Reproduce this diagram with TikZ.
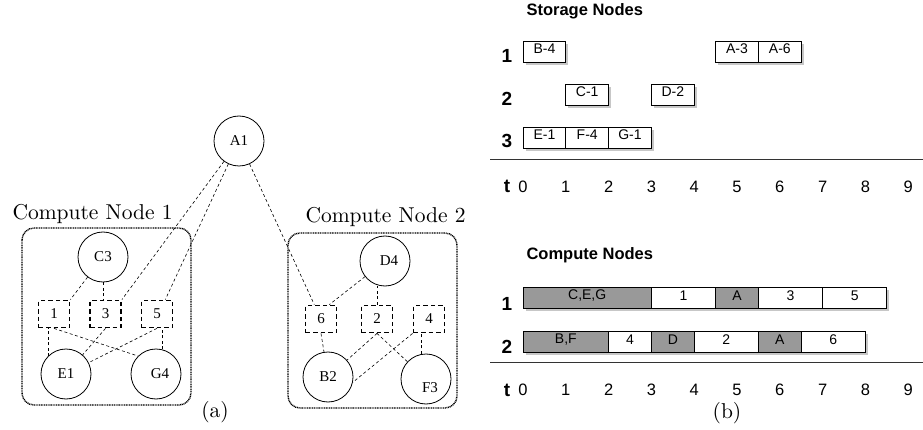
\documentclass[tikz,border=0pt]{standalone}
\usepackage{fontspec}
\newfontfamily\timesfont{Liberation Serif}
\newfontfamily\arialfont{Liberation Sans}
\newfontfamily\cmtenfont{lmroman10-regular}[Extension=.otf]

\tikzset{
  vmtext/.style={font=\timesfont\fontsize{15}{15}\selectfont},
  vm/.style={draw, circle, line width=0.8pt, minimum size=50pt, inner sep=0pt, vmtext},
  task/.style={draw, dash pattern=on 4.5pt off 3pt, line width=1.8pt, minimum width=31pt, minimum height=27pt, inner sep=0pt, vmtext},
  link/.style={dash pattern=on 3pt off 2.5pt, line width=0.6pt},
  cnode/.style={rounded corners=12pt, line width=1.4pt, dash pattern=on 1pt off 0.7pt},
  cell/.style={line width=0.9pt, font=\arialfont\fontsize{14}{14}\selectfont},
  busy/.style={fill=black!40},
  shadowbox/.style={fill=black!22},
  rowlbl/.style={anchor=base, font=\arialfont\bfseries\fontsize{19}{19}\selectfont},
  ticklbl/.style={anchor=base, font=\arialfont\fontsize{16.5}{16.5}\selectfont},
  headlbl/.style={anchor=base west, font=\arialfont\bfseries\fontsize{16.5}{16.5}\selectfont},
  sublbl/.style={font=\cmtenfont\fontsize{21.5}{21.5}\selectfont}
}

\begin{document}
\begin{tikzpicture}[x=1pt, y=-1pt]
\useasboundingbox (0,0) rectangle (923,430);

% (a) placement
\node[vm] (A1) at (239,141) {A1};

\draw[cnode] (22,228) rectangle (191,405);
\node[sublbl, anchor=base west] (cn1) at (9,220) {Compute Node 1};
\node[vm] (C3) at (103,257) {C3};
\node[task] (t1) at (54,314) {1};
\node[task] (t3) at (105.5,314) {3};
\node[task] (t5) at (157,314) {5};
\node[vm] (E1) at (66,374) {E1};
\node[vm, label={[vmtext, xshift=4pt]center:G4}] (G4) at (156,374) {};

\draw[cnode] (288,233) rectangle (457,408);
\node[sublbl, anchor=base west] (cn2) at (302,223) {Compute Node 2};
\node[vm, label={[vmtext, xshift=4pt]center:D4}] (D4) at (385,261) {};
\node[task] (t6) at (321,319) {6};
\node[task] (t2) at (377,319) {2};
\node[task] (t4) at (429,319) {4};
\node[vm] (B2) at (328,377) {B2};
\node[vm, label={[vmtext, shift={(4pt,-9pt)}]center:F3}] (F3) at (426,379) {};

\draw[link] (A1) -- (t3.north east);
\draw[link] (A1) -- (t5.60);
\draw[link] (A1) -- (t6.115);
\draw[link] (C3) -- (t1.north east);
\draw[link] (C3.south) -- (C3.south |- t3.north);
\draw[link] (E1.north west) -- (E1.north west |- t1.south);
\draw[link] (t1.south) -- (G4.north west);
\draw[link] (t3.south) -- (E1);
\draw[link] (t5.south) -- (E1);
\draw[link] (G4.75) -- (G4.75 |- t5.south);
\draw[link] (D4) -- (t6.60);
\draw[link] (t2.north) -- (t2.north |- D4.south);
\draw[link] (t6.south) -- (B2);
\draw[link] (t2.south) -- (B2);
\draw[link] (t2.south) -- (F3);
\draw[link] (t4.south west) -- (B2.-12);
\draw[link] (F3.100) -- (F3.100 |- t4.south);

\node[sublbl] (capa) at (215,412) {(a)};

% (b) schedule
\node[headlbl] (stor) at (523,16) {Storage Nodes};
\node[headlbl] (comp) at (523,259) {Compute Nodes};
\node[rowlbl] (sr1) at (507,63) {1};
\node[rowlbl] (sr2) at (507,106) {2};
\node[rowlbl] (sr3) at (507,148) {3};
\node[rowlbl] (st) at (507,193) {t};
\node[rowlbl] (cr1) at (507,310) {1};
\node[rowlbl] (cr2) at (507,353) {2};
\node[rowlbl] (ct) at (507,396) {t};
\draw[line width=0.9pt, black!80] (490,159) -- (923,159);
\draw[line width=0.9pt, black!80] (490,362) -- (923,362);

\begin{scope}[shift={(523,0)}, x=42.8pt]
  % shadows
  \fill[shadowbox] (0.06,44) rectangle (1.06,65);
  \fill[shadowbox] (4.56,44) rectangle (6.56,65);
  \fill[shadowbox] (1.06,87) rectangle (2.06,108);
  \fill[shadowbox] (3.06,87) rectangle (4.06,108);
  \fill[shadowbox] (0.06,130) rectangle (3.06,151);
  \fill[shadowbox] (0.06,290) rectangle (8.56,311);
  \fill[shadowbox] (0.06,334) rectangle (8.06,355);

  % storage
  \draw[cell, fill=white] (0,41) rectangle (1,62) node[pos=.5, yshift=3pt] (sB4) {B-4};
  \draw[cell, fill=white] (4.5,41) rectangle (5.5,62) node[pos=.5, yshift=3pt] (sA3) {A-3};
  \draw[cell, fill=white] (5.5,41) rectangle (6.5,62) node[pos=.5, yshift=3pt] (sA6) {A-6};
  \draw[cell, fill=white] (1,84) rectangle (2,105) node[pos=.5, yshift=3pt] (sC1) {C-1};
  \draw[cell, fill=white] (3,84) rectangle (4,105) node[pos=.5, yshift=3pt] (sD2) {D-2};
  \draw[cell, fill=white] (0,127) rectangle (1,148) node[pos=.5, yshift=3pt] (sE1) {E-1};
  \draw[cell, fill=white] (1,127) rectangle (2,148) node[pos=.5, yshift=3pt] (sF4) {F-4};
  \draw[cell, fill=white] (2,127) rectangle (3,148) node[pos=.5, yshift=3pt] (sG1) {G-1};

  % compute
  \draw[cell, busy] (0,287) rectangle (3,308) node[pos=.5, yshift=2pt] (cCEG) {C,E,G};
  \draw[cell, fill=white] (3,287) rectangle (4.5,308) node[pos=.5, yshift=2pt] (c1) {1};
  \draw[cell, busy] (4.5,287) rectangle (5.5,308) node[pos=.5, yshift=2pt] (c1A) {A};
  \draw[cell, fill=white] (5.5,287) rectangle (7,308) node[pos=.5, yshift=2pt] (c3) {3};
  \draw[cell, fill=white] (7,287) rectangle (8.5,308) node[pos=.5, yshift=2pt] (c5) {5};
  \draw[cell, busy] (0,331) rectangle (2,352) node[pos=.5, yshift=2pt] (cBF) {B,F};
  \draw[cell, fill=white] (2,331) rectangle (3,352) node[pos=.5, yshift=2pt] (c4) {4};
  \draw[cell, busy] (3,331) rectangle (4,352) node[pos=.5, yshift=2pt] (cD) {D};
  \draw[cell, fill=white] (4,331) rectangle (5.5,352) node[pos=.5, yshift=2pt] (c2) {2};
  \draw[cell, busy] (5.5,331) rectangle (6.5,352) node[pos=.5, yshift=2pt] (c2A) {A};
  \draw[cell, fill=white] (6.5,331) rectangle (8,352) node[pos=.5, yshift=2pt] (c6) {6};

  % time axes
  \foreach \k in {0,...,9} {
    \node[ticklbl] (sx\k) at (\k,193) {\k};
    \node[ticklbl] (cx\k) at (\k,395) {\k};
  }
\end{scope}

\node[sublbl] (capb) at (727,413) {(b)};
\end{tikzpicture}
\end{document}
